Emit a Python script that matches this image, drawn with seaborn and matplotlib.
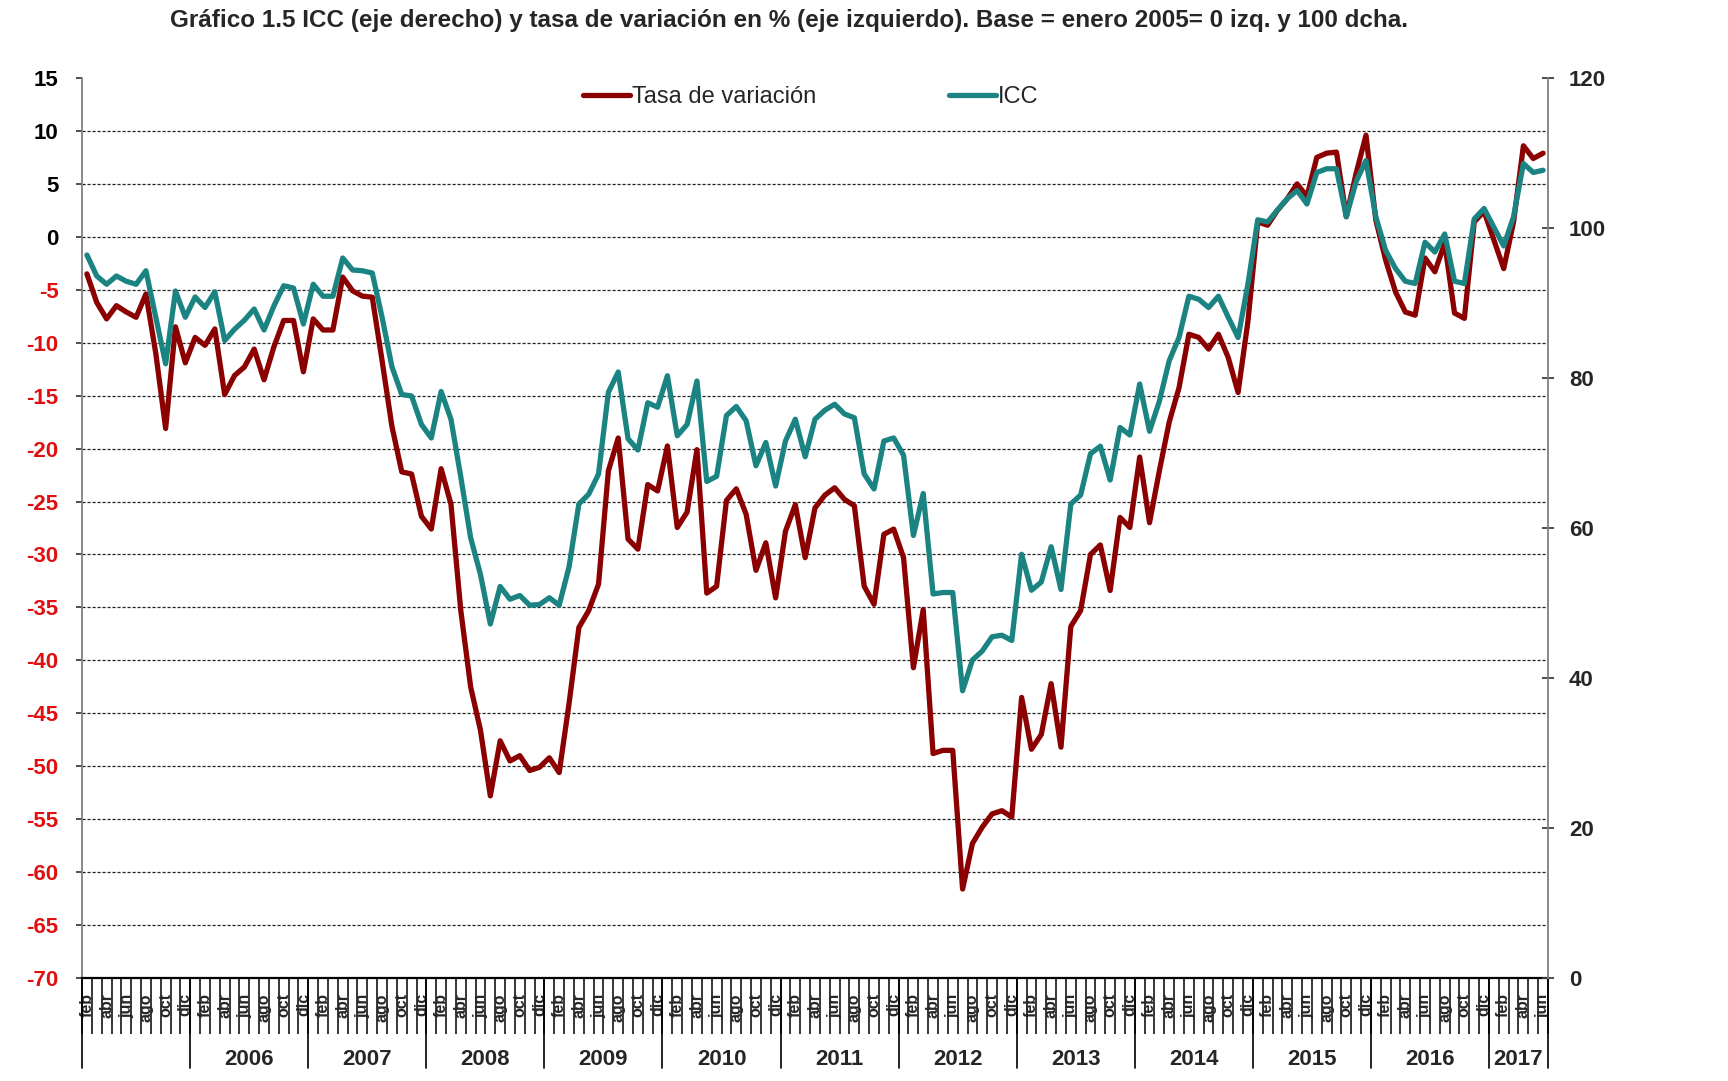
import matplotlib
matplotlib.use('Agg')
import matplotlib.pyplot as plt
import seaborn as sns
import pandas as pd
import numpy as np

# Monthly series, feb 2005 - jun 2017
months = pd.date_range('2005-02-01', '2017-06-01', freq='MS')
month_abbr = ['ene', 'feb', 'mar', 'abr', 'may', 'jun', 'jul', 'ago', 'sep', 'oct', 'nov', 'dic']
labeled_years = [2006, 2007, 2008, 2009, 2010, 2011, 2012, 2013, 2014, 2015, 2016, 2017]

# tasa de variacion (%), left axis
tasa = [
    -3.5, -6.2, -7.75, -6.5, -7.1, -7.6, -5.4, -11.0, -18.1, -8.5, -11.9,
    -9.5, -10.25, -8.7, -14.9, -13.1, -12.3, -10.6, -13.5, -10.4, -7.9, -7.9, -12.75,
    -7.75, -8.8, -8.8, -3.8, -5.1, -5.6, -5.7, -11.7, -17.9, -22.2, -22.4, -26.4,
    -27.6, -21.9, -25.25, -35.3, -42.5, -46.6, -52.8, -47.6, -49.5, -49.0, -50.4, -50.1,
    -49.2, -50.6, -44.1, -36.9, -35.3, -32.8, -22.1, -19.0, -28.55, -29.5, -23.4, -24.0,
    -19.75, -27.45, -26.0, -20.1, -33.65, -33.0, -24.9, -23.8, -26.2, -31.5, -28.9, -34.1,
    -27.8, -25.3, -30.3, -25.6, -24.4, -23.7, -24.8, -25.4, -33.0, -34.7, -28.1, -27.6,
    -30.3, -40.7, -35.2, -48.8, -48.5, -48.5, -61.6, -57.3, -55.75, -54.5, -54.2, -54.8,
    -43.5, -48.4, -47.0, -42.2, -48.2, -36.8, -35.3, -30.0, -29.1, -33.4, -26.5, -27.45,
    -20.8, -27.0, -22.1, -17.5, -14.25, -9.2, -9.5, -10.6, -9.2, -11.4, -14.7, -8.0,
    1.4, 1.1, 2.5, 3.6, 5.0, 3.8, 7.5, 7.9, 8.0, 1.9, 6.0, 9.6,
    1.6, -2.2, -5.2, -7.1, -7.4, -2.0, -3.3, -0.6, -7.2, -7.7, 1.4, 2.4,
    -0.3, -3.0, 1.4, 8.6, 7.4, 7.9,
]

# ICC index, right axis
icc = [
    96.4, 93.6, 92.5, 93.6, 92.9, 92.5, 94.3, 88.1, 81.9, 91.6, 88.1,
    90.8, 89.4, 91.5, 85.0, 86.5, 87.7, 89.2, 86.4, 89.6, 92.3, 92.0, 87.2,
    92.5, 90.9, 90.9, 96.0, 94.4, 94.3, 94.0, 88.1, 81.5, 77.8, 77.6, 73.8,
    72.0, 78.2, 74.5, 66.8, 58.7, 53.8, 47.2, 52.2, 50.5, 51.0, 49.7, 49.8,
    50.7, 49.7, 54.8, 63.2, 64.5, 67.2, 78.1, 80.8, 71.9, 70.4, 76.7, 76.1,
    80.3, 72.3, 73.8, 79.6, 66.2, 66.9, 75.0, 76.2, 74.3, 68.3, 71.4, 65.6,
    71.6, 74.5, 69.5, 74.5, 75.7, 76.5, 75.2, 74.7, 67.2, 65.2, 71.6, 72.0,
    69.7, 59.0, 64.6, 51.2, 51.4, 51.4, 38.3, 42.4, 43.6, 45.5, 45.7, 45.0,
    56.5, 51.7, 52.8, 57.5, 51.8, 63.2, 64.4, 69.9, 70.9, 66.4, 73.4, 72.4,
    79.2, 72.9, 76.9, 82.3, 85.4, 90.9, 90.5, 89.4, 90.9, 88.1, 85.4, 92.5,
    101.1, 100.8, 102.4, 103.9, 105.0, 103.2, 107.4, 107.9, 107.9, 101.5, 106.2, 109.0,
    101.5, 97.0, 94.6, 92.9, 92.6, 98.1, 96.8, 99.2, 92.9, 92.6, 101.2, 102.6,
    100.1, 97.6, 101.5, 108.6, 107.4, 107.7,
]

RED = '#8B0000'
TEAL = '#1C8383'

sns.set_style('white')
plt.rcParams['font.family'] = ['Liberation Sans', 'DejaVu Sans']

df = pd.DataFrame({'x': np.arange(len(months)), 'tasa': tasa, 'icc': icc})

fig = plt.figure(figsize=(17.28, 10.81), dpi=100)
W, H = 1728, 1081
ax = fig.add_axes([82 / W, 1 - 978 / H, (1548 - 82) / W, (978 - 78) / H])
ax2 = ax.twinx()

sns.lineplot(data=df, x='x', y='tasa', ax=ax, color=RED, lw=3.8, legend=False)
sns.lineplot(data=df, x='x', y='icc', ax=ax2, color=TEAL, lw=3.8, legend=False)

ax.set_xlim(-0.5, len(months) - 0.5)
ax.set_ylim(-70, 15)
ax2.set_ylim(0, 120)
for a in (ax, ax2):
    a.set_xlabel('')
    a.set_ylabel('')

# left axis: negatives in red
left_ticks = list(range(-70, 16, 5))
ax.set_yticks(left_ticks)
ax.set_yticklabels([str(v) for v in left_ticks], fontsize=16, fontweight='bold')
for v, lab in zip(left_ticks, ax.get_yticklabels()):
    lab.set_color('#E01010' if v < 0 else 'black')
ax.tick_params(axis='y', left=True, direction='out', length=4, width=1.3, color='#404040', pad=13)

right_ticks = list(range(0, 121, 20))
ax2.set_yticks(right_ticks)
ax2.set_yticklabels([str(v) for v in right_ticks], fontsize=16, fontweight='bold')
ax2.tick_params(axis='y', right=True, direction='inout', length=8, width=1.3, color='#404040', pad=11)

# dashed gridlines
ax.yaxis.grid(True, ls=(0, (2.5, 1.5)), color='#222222', lw=0.9)
gl = ax.yaxis.get_gridlines()
gl[0].set_visible(False)
gl[-1].set_visible(False)
ax.set_axisbelow(True)

# spines
for a in (ax, ax2):
    a.spines['top'].set_visible(False)
ax.spines['right'].set_visible(False)
ax2.spines['left'].set_visible(False)
ax2.spines['bottom'].set_visible(False)
ax.spines['left'].set_color('#808080')
ax.spines['left'].set_linewidth(1.3)
ax2.spines['right'].set_color('#808080')
ax2.spines['right'].set_linewidth(1.3)
ax.spines['bottom'].set_color('black')
ax.spines['bottom'].set_linewidth(1.6)

# x axis: tick at each month boundary, label every other month
n = len(months)
ax.set_xticks(np.arange(-0.5, n, 1.0))
ax.set_xticklabels([])
ax.tick_params(axis='x', which='major', bottom=True, direction='out', length=40, width=1.1, color='black')
lab_pos = df['x'].values[::2]
ax.set_xticks(lab_pos, minor=True)
ax.set_xticklabels([month_abbr[m.month - 1] for m in months[::2]], minor=True,
                   rotation=90, fontsize=11.5, fontweight='bold')
ax.tick_params(axis='x', which='minor', bottom=True, length=0, pad=11)

# year separators and labels
xt = ax.get_xaxis_transform()
years = months.year
for yr in sorted(set(years)):
    idx = np.where(years == yr)[0]
    lo, hi = idx.min() - 0.5, idx.max() + 0.5
    ax.plot([lo, lo], [0, -0.1], transform=xt, clip_on=False, color='black', lw=1.2)
    if yr in labeled_years:
        ax.text((lo + hi) / 2, -0.091, str(yr), transform=xt, ha='center', va='center',
                fontsize=16, fontweight='bold')
ax.plot([n - 0.5, n - 0.5], [0, -0.1], transform=xt, clip_on=False, color='black', lw=1.2)

# legend
handles = [ax.get_lines()[0], ax2.get_lines()[0]]
ax2.legend(handles, ['Tasa de variación', 'ICC'], loc='center', bbox_to_anchor=(0.497, 1 - 19 / 900),
           ncol=2, frameon=False, fontsize=17, handlelength=2.0, handletextpad=0.1,
           columnspacing=5.6)

fig.text(789 / W, 1 - 20 / H,
         'Gráfico 1.5 ICC (eje derecho) y tasa de variación en % (eje izquierdo). '
         'Base = enero 2005= 0 izq. y 100 dcha.',
         ha='center', va='center', fontsize=17.5, fontweight='bold')

fig.savefig('out.png', dpi=100)
plt.close(fig)
